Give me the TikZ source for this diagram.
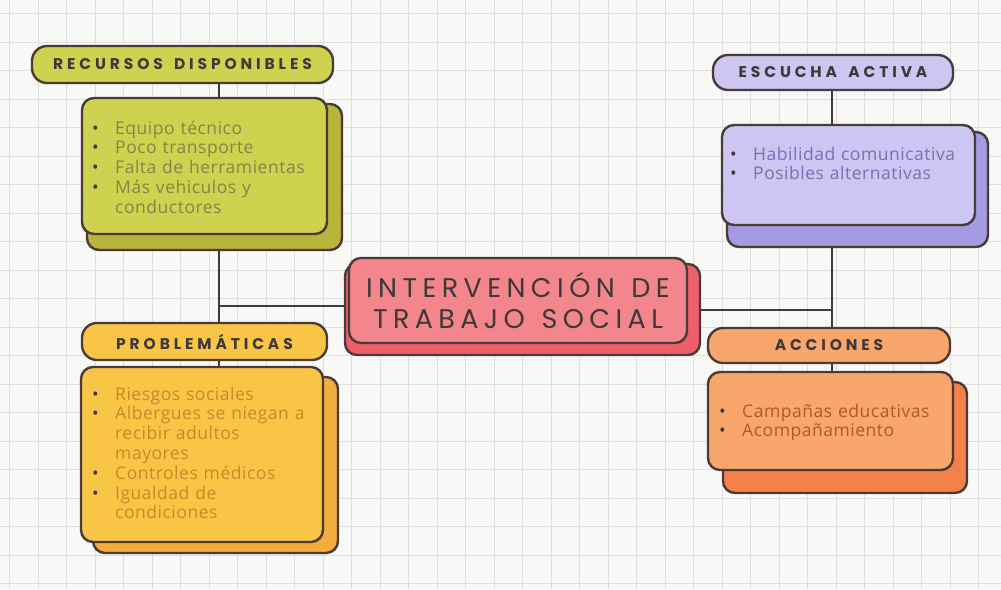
\documentclass[tikz,border=0pt]{standalone}
\usepackage{fontspec}
\setmainfont{Open Sans}
\newfontfamily\bodyfont[LetterSpace=3]{Open Sans}
\newfontfamily\pillfont[LetterSpace=25]{Poppins}
\newfontfamily\bigfont[LetterSpace=20]{Poppins}
\definecolor{bordc}{HTML}{4B3B37}
\definecolor{bgc}{HTML}{F8F8F6}
\definecolor{gridc}{HTML}{DEDEDE}
\definecolor{linec}{HTML}{3E3A3A}
\definecolor{titc}{HTML}{3E3838}
\definecolor{ygA}{HTML}{CFD24F}
\definecolor{ygB}{HTML}{B8B53C}
\definecolor{ygT}{HTML}{85844A}
\definecolor{lvA}{HTML}{CDC5F2}
\definecolor{lvB}{HTML}{A49BE3}
\definecolor{lvT}{HTML}{7A6FB0}
\definecolor{pkA}{HTML}{F2868C}
\definecolor{pkB}{HTML}{EE5F6B}
\definecolor{orA}{HTML}{F8C547}
\definecolor{orB}{HTML}{F2AD3C}
\definecolor{orT}{HTML}{C58A28}
\definecolor{acA}{HTML}{F8A66B}
\definecolor{acB}{HTML}{F4804A}
\definecolor{acT}{HTML}{B5552F}
\newcommand\itm[1]{\par\hangindent=23pt\hangafter=1\noindent\makebox[23pt][l]{\color{titc}•}#1}
\tikzset{
  bord/.style={draw=bordc, line width=2.4pt, rounded corners=12pt, inner sep=0pt},
  pillbox/.style={bord, rounded corners=15pt, font=\pillfont\bfseries\fontsize{15.5}{18}\selectfont, text=titc},
  itemtext/.style={anchor=north west, inner sep=0pt, text width=290pt, align=left, font=\bodyfont\fontsize{17.5}{19.8}\selectfont},
  conn/.style={draw=linec, line width=2.2pt}
}
\begin{document}
\begin{tikzpicture}[x=1pt,y=-1pt]
\useasboundingbox (0,0) rectangle (1001,589);
\fill[bgc] (0,0) rectangle (1001,589);
\foreach \gx in {9.5,38,...,1000} \draw[gridc, line width=0.8pt] (\gx,0) -- (\gx,589);
\foreach \gy in {13.5,42,...,588} \draw[gridc, line width=0.8pt] (0,\gy) -- (1001,\gy);

\coordinate (jl) at (219,306);
\coordinate (jr) at (832,310);

% Recursos disponibles
\node[pillbox, fill=ygA, minimum width=301pt, minimum height=37pt] (rp) at (182.5,64.5) {RECURSOS\hspace{4pt} DISPONIBLES};
\node[bord, fill=ygB, minimum width=255pt, minimum height=146pt] (rcb) at (214.5,177) {};
\node[bord, fill=ygA, minimum width=245pt, minimum height=136pt] (rc) at (204.5,166) {};
\node[itemtext, text=ygT] (rt) at (92,114) {\itm{Equipo técnico}\itm{Poco transporte}\itm{Falta de herramientas}\itm{Más vehiculos y\newline conductores}\par};

% Escucha activa
\node[pillbox, fill=lvA, minimum width=240pt, minimum height=35pt] (ep) at (833,72.5) {ESCUCHA\hspace{4pt} ACTIVA};
\node[bord, fill=lvB, minimum width=261pt, minimum height=115pt] (ecb) at (857.5,189.5) {};
\node[bord, fill=lvA, minimum width=253pt, minimum height=100pt] (ec) at (848.5,175) {};
\node[itemtext, text=lvT] (et) at (730,140) {\itm{Habilidad comunicativa}\itm{Posibles alternativas}\par};

% Central
\node[bord, fill=pkB, minimum width=355pt, minimum height=91pt] (cb) at (522.5,309.5) {};
\node[bord, fill=pkA, minimum width=338pt, minimum height=85pt, align=center, text=titc,
      font=\bigfont\fontsize{27}{31}\selectfont] (c) at (518,300.5) {INTERVENCIÓN\hspace{4pt} DE\\TRABAJO\hspace{4pt} SOCIAL};

% Problemáticas
\node[pillbox, fill=orA, minimum width=245pt, minimum height=37pt] (pp) at (204.5,341.5) {PROBLEMÁTICAS};
\node[bord, fill=orB, minimum width=245pt, minimum height=176pt] (pcb) at (215.5,465) {};
\node[bord, fill=orA, minimum width=242pt, minimum height=175pt] (pc) at (202,454.5) {};
\node[itemtext, text=orT] (pt) at (92,380) {\itm{Riesgos sociales}\itm{Albergues se niegan a\newline recibir adultos\newline mayores}\itm{Controles médicos}\itm{Igualdad de\newline condiciones}\par};

% Acciones
\node[pillbox, fill=acA, minimum width=242pt, minimum height=35pt] (ap) at (829,345.5) {ACCIONES};
\node[bord, fill=acB, minimum width=244pt, minimum height=111pt] (acb) at (845,437.5) {};
\node[bord, fill=acA, minimum width=245pt, minimum height=98pt] (ac) at (830.5,421) {};
\node[itemtext, text=acT] (at) at (719,397) {\itm{Campañas educativas}\itm{Acompañamiento}\par};

% Connectors
\draw[conn] (jl |- rp.south) -- (jl |- rc.north);
\draw[conn] (jl |- rcb.south) -- (jl |- pp.north);
\draw[conn] (jl |- pp.south) -- (jl |- pc.north);
\draw[conn] (jl) -- (jl -| cb.west);
\draw[conn] (jr |- ep.south) -- (jr |- ec.north);
\draw[conn] (jr |- ecb.south) -- (jr |- ap.north);
\draw[conn] (jr |- ap.south) -- (jr |- ac.north);
\draw[conn] (jr) -- (jr -| cb.east);
\end{tikzpicture}
\end{document}
